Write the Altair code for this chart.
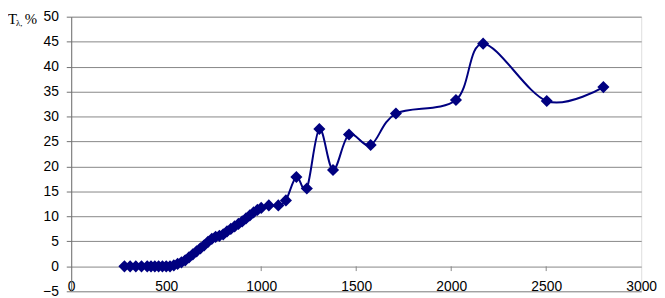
import altair as alt
import pandas as pd

wavelength = [280, 310, 340, 370, 400, 420, 440, 460, 480, 500, 520, 540, 560, 580,
              600, 620, 640, 660, 680, 700, 720, 740, 760, 780, 800, 820, 840, 860,
              880, 900, 920, 940, 960, 980, 1000, 1040, 1090, 1130, 1185, 1240,
              1306, 1378, 1462, 1576, 1709, 2025, 2168, 2503, 2801]
transmission = [0, 0, 0, 0, 0, 0, 0, 0, 0, 0, 0, 0.2, 0.5, 0.8,
                1.2, 1.8, 2.4, 3.0, 3.6, 4.2, 4.9, 5.5, 5.9, 6.1, 6.4, 7.0, 7.5, 8.0,
                8.5, 9.0, 9.6, 10.2, 10.8, 11.3, 11.7, 12.2, 12.2, 13.2, 17.9, 15.6,
                27.5, 19.3, 26.4, 24.3, 30.6, 33.3, 44.6, 33.1, 35.9]

x_ticks = [0, 500, 1000, 1500, 2000, 2500, 3000]
y_ticks = [-5, 0, 5, 10, 15, 20, 25, 30, 35, 40, 45, 50]
small_ticks = [500, 1000, 1500, 2000, 2500]

df = pd.DataFrame({"wl": wavelength, "t": transmission})
tick_df = pd.DataFrame({"wl": small_ticks, "t": [0] * len(small_ticks),
                        "t2": [-0.95] * len(small_ticks)})

W, H = 577, 278
navy = "#000080"
grid = "#868686"

xscale = alt.Scale(domain=[0, 3000], nice=False)
yscale = alt.Scale(domain=[-5, 50], nice=False)

x_axis = alt.Axis(
    values=x_ticks, format="d", title=None, grid=False, domain=False, ticks=False,
    labelBaseline="alphabetic", labelPadding=-1, labelFont="Liberation Sans",
    labelFontSize=14, labelColor="black", labelFlush=False, labelOverlap=False)
y_axis = alt.Axis(
    values=y_ticks, format="d", title=None, grid=True, gridColor=grid, gridWidth=1,
    domain=True, domainColor="#707070", ticks=True, tickSize=5, tickColor="#707070",
    labelPadding=8, labelFont="Liberation Sans", labelFontSize=14,
    labelColor="black", labelFlush=False, labelOverlap=False)


def xe():
    return alt.X("wl:Q", scale=xscale, axis=x_axis, title=None)


def ye():
    return alt.Y("t:Q", scale=yscale, axis=y_axis, title=None)


ticks = alt.Chart(tick_df).mark_rule(color=grid, strokeWidth=1).encode(
    x=xe(), y=ye(), y2=alt.Y2("t2:Q"))
line = alt.Chart(df).mark_line(color=navy, strokeWidth=2, interpolate="cardinal").encode(
    x=xe(), y=ye())
points = alt.Chart(df).mark_point(shape="diamond", filled=True, color=navy, size=150,
                                  opacity=1).encode(x=xe(), y=ye())

title_T = alt.Chart(pd.DataFrame({"s": ["T"]})).mark_text(
    font="Liberation Serif", fontSize=15, align="left", baseline="alphabetic", color="black"
).encode(x=alt.value(-64), y=alt.value(7), text="s:N")
title_l = alt.Chart(pd.DataFrame({"s": ["λ,"]})).mark_text(
    font="Liberation Serif", fontSize=9, align="left", baseline="alphabetic", color="black"
).encode(x=alt.value(-56), y=alt.value(9), text="s:N")
title_p = alt.Chart(pd.DataFrame({"s": ["%"]})).mark_text(
    font="Liberation Serif", fontSize=15, align="left", baseline="alphabetic", color="black"
).encode(x=alt.value(-47), y=alt.value(7), text="s:N")

chart = alt.layer(ticks, line, points, title_T, title_l, title_p).properties(
    width=W, height=H,
    autosize=alt.AutoSizeParams(type="none"),
    padding={"left": 64, "top": 7, "right": 16, "bottom": 5},
).configure_view(stroke=grid, strokeWidth=1).configure(background="white")

chart.save("out.html", embed_options={"renderer": "svg", "actions": False})
